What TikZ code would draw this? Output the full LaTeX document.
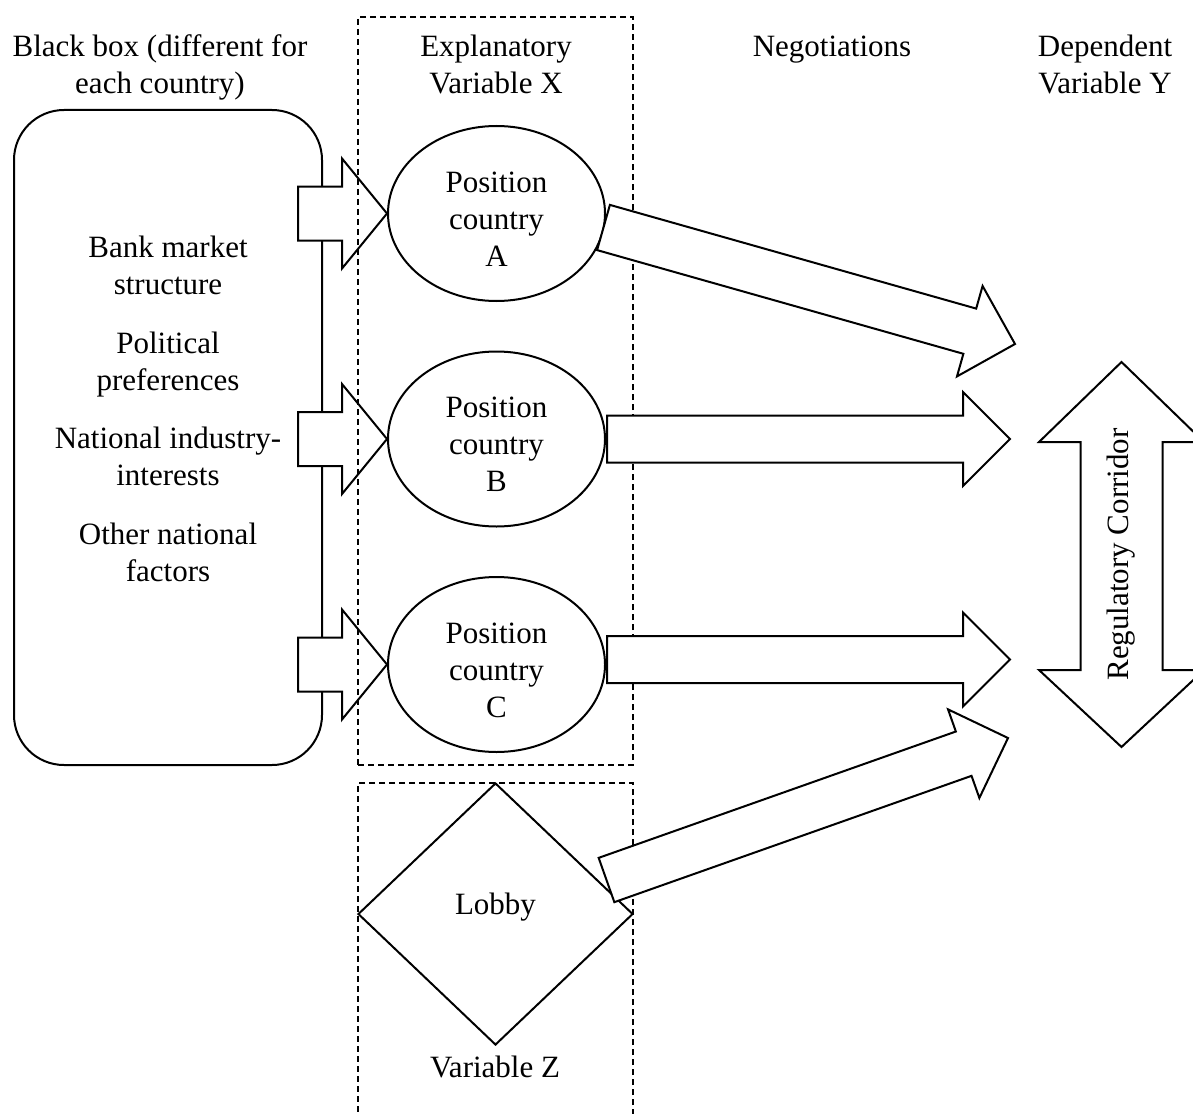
\documentclass[tikz,border=0pt]{standalone}
\usepackage{fontspec}
\setmainfont{Liberation Serif}
\usetikzlibrary{calc,shapes.geometric}
\tikzset{
  txt/.style={font=\fontsize{31}{37}\selectfont, align=center, inner sep=0pt},
  solidshape/.style={draw, line width=2pt, fill=white},
  dbox/.style={draw, dash pattern=on 6pt off 4pt, line width=1.3pt, inner sep=0pt},
  blk/.style={draw, line width=2pt, fill=white, line join=miter},
  posnode/.style={ellipse, solidshape, txt, minimum width=217pt, minimum height=175pt},
}
\newcommand\blockarrow[5]{%
  \coordinate (baB) at ($(#2)!#5!(#1)$);
  \filldraw[blk] ($(#1)!#3!90:(#2)$) -- ($(baB)!#3!90:(#2)$) -- ($(baB)!#4!90:(#2)$) -- (#2)
    -- ($(baB)!#4!-90:(#2)$) -- ($(baB)!#3!-90:(#2)$) -- ($(#1)!#3!-90:(#2)$) -- cycle;
}
\begin{document}
\begin{tikzpicture}[x=1pt,y=-1pt]
\useasboundingbox (0,0) rectangle (1193,1113);
% column titles (anchor base = last line)
\node[txt, anchor=base] (tBB) at (160,94) {Black box (different for\\each country)};
\node[txt, anchor=base] (tX) at (496,94) {Explanatory\\Variable X};
\node[txt, anchor=base] (tN) at (832,57) {Negotiations};
\node[txt, anchor=base] (tY) at (1105,94) {Dependent\\Variable Y};
% black box
\node[solidshape, rounded corners=50pt, minimum width=308pt, minimum height=655pt, inner sep=0pt] (bb) at (168,437.5) {};
\node[txt, anchor=base] (f1) at (168,294) {Bank market\\structure};
\node[txt, anchor=base] (f2) at (168,390) {Political\\preferences};
\node[txt, anchor=base] (f3) at (168,485) {National industry-\\interests};
\node[txt, anchor=base] (f4) at (168,581) {Other national\\factors};
% positions
\node[posnode] (pA) at (496.5,213.5) {\rule{0pt}{32pt}Position\\country\\A};
\node[posnode] (pB) at (496.5,439) {\rule{0pt}{32pt}Position\\country\\B};
\node[posnode] (pC) at (496.5,664.5) {\rule{0pt}{32pt}Position\\country\\C};
% small arrows from black box
\coordinate (sA) at ($(bb.east|-pA.west)+(-25,0)$);
\coordinate (sB) at ($(bb.east|-pB.west)+(-25,0)$);
\coordinate (sC) at ($(bb.east|-pC.west)+(-25,0)$);
\blockarrow{sA}{pA.west}{27pt}{55pt}{45pt}
\blockarrow{sB}{pB.west}{27pt}{55pt}{45pt}
\blockarrow{sC}{pC.west}{27pt}{55pt}{45pt}
% dashed boxes
\node[dbox, minimum width=275pt, minimum height=748pt] (boxX) at (495.5,391) {};
\node[dbox, minimum width=275pt, minimum height=357pt] (boxZ) at (495.5,961.5) {};
% lobby
\node[diamond, solidshape, txt, minimum width=275pt, minimum height=262pt, text height=21pt, text depth=20pt] (lob) at (495.5,914) {Lobby};
\node[txt, anchor=base] (vZ) at (495,1077) {Variable Z};
% big arrows
\coordinate (eA) at (603.5,227.5);
\coordinate (tA) at (1015,344);
\coordinate (eB) at (607,439);
\coordinate (tB) at (1010,439);
\coordinate (eC) at (607,659.5);
\coordinate (tC) at (1010,659.5);
\coordinate (eZ) at (606.5,880);
\coordinate (tZ) at (1008,738);
\blockarrow{eA}{tA}{23.5pt}{47pt}{47pt}
\blockarrow{eB}{tB}{23.5pt}{47pt}{47pt}
\blockarrow{eC}{tC}{23.5pt}{47pt}{47pt}
\blockarrow{eZ}{tZ}{23.5pt}{47pt}{47pt}
% regulatory corridor
\coordinate (cc) at (1121.5,554.5);
\filldraw[blk, shift={(cc)}] (0,-192.5) -- (82.5,-112.5) -- (41,-112.5) -- (41,115.5) -- (82.5,115.5)
  -- (0,192.5) -- (-82.5,115.5) -- (-41,115.5) -- (-41,-112.5) -- (-82.5,-112.5) -- cycle;
\node[txt, rotate=90] (corr) at (cc) {Regulatory Corridor};
\end{tikzpicture}
\end{document}
